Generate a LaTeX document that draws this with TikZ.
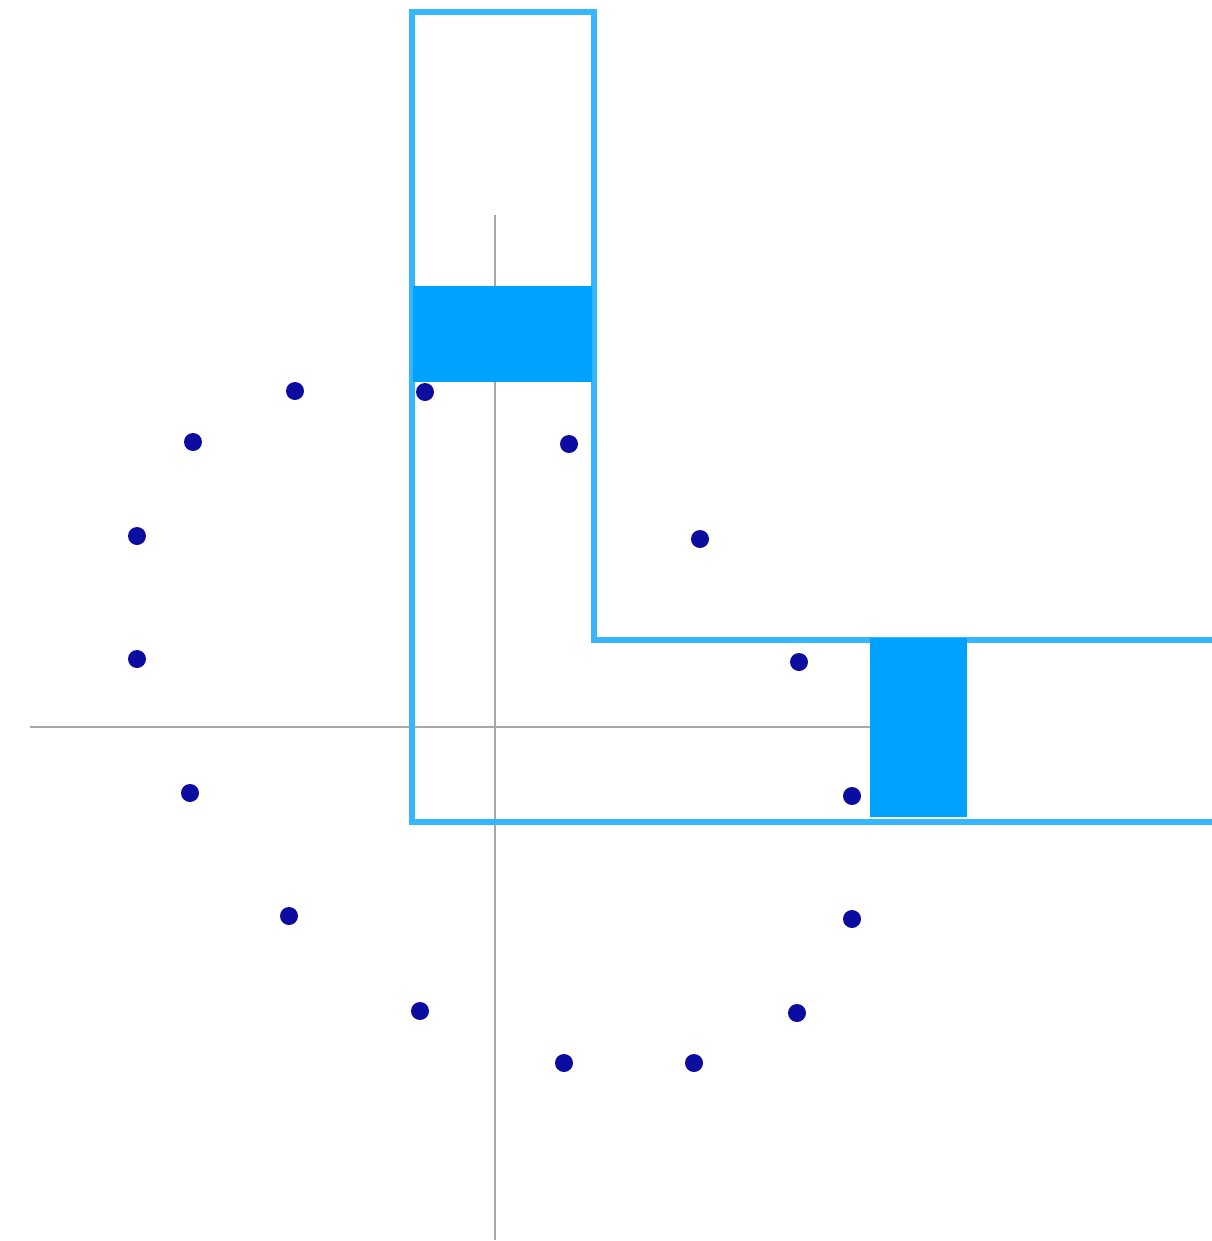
\documentclass[tikz,border=0pt]{standalone}
\definecolor{axisgray}{HTML}{A8A8A8}
\definecolor{outlineblue}{HTML}{36B6FF}
\definecolor{fillblue}{HTML}{00A2FF}
\definecolor{dotblue}{HTML}{0C0CA0}
\tikzset{
  axisline/.style={draw=axisgray, line width=1.2pt},
  outline/.style={draw=outlineblue, line width=2.9pt, line join=miter},
  block/.style={fill=fillblue, draw=none},
  dot/.style={circle, fill=dotblue, draw=none, inner sep=0pt, minimum size=0.36cm}
}
\begin{document}
\begin{tikzpicture}[x=0.02cm, y=-0.02cm]
\useasboundingbox[fill=white] (0,0) rectangle (1211,1241);
% axes
\coordinate (xa) at (30,727);
\coordinate (xb) at (870,727);
\coordinate (ya) at (495,215);
\coordinate (yb) at (495,1240);
\draw[axisline] (xa) -- (xb);
\draw[axisline] (ya) -- (yb);
% L-shaped outline
\draw[outline] (1214,822) -- (412,822) -- (412,12) -- (594,12) -- (594,640) -- (1214,640);
% filled blocks
\fill[block] (413,286) rectangle (592,382);
\fill[block] (870,638) rectangle (967,817);
% dots
\foreach \n/\x/\y in {d1/295/391, d2/425/392, d3/569/444, d4/193/442, d5/700/539,
  d6/137/536, d7/137/659, d8/799/662, d9/190/793, d10/852/796, d11/289/916,
  d12/852/919, d13/420/1011, d14/797/1013, d15/564/1063, d16/694/1063}
  \node[dot] (\n) at (\x,\y) {};
\end{tikzpicture}
\end{document}
